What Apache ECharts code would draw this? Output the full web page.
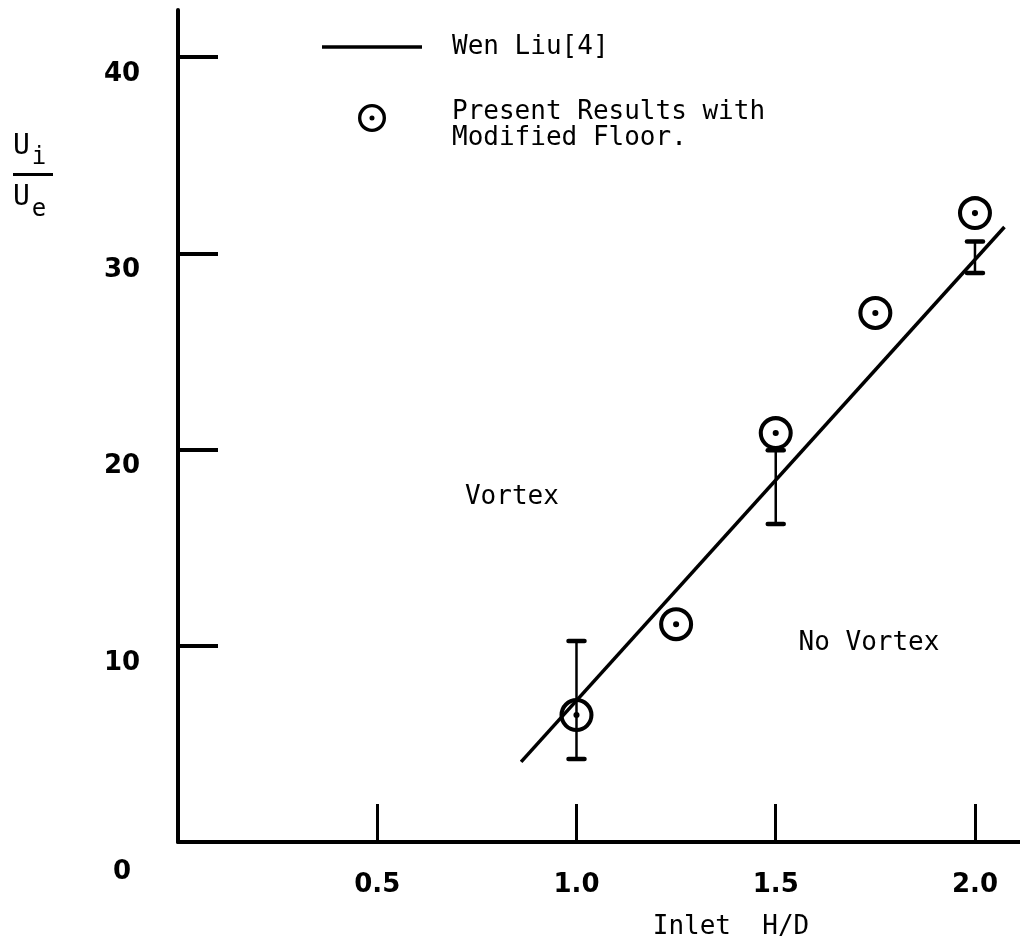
<!DOCTYPE html>
<html><head><meta charset="utf-8">
<script src="https://cdn.jsdelivr.net/npm/echarts@6/dist/echarts.min.js"></script>
<style>html,body{margin:0;padding:0;background:#fff}#c{width:1020px;height:952px}</style>
</head><body><div id="c"></div>
<script>
// ---- data ----
const xTicks = [0.5, 1.0, 1.5, 2.0];
const yTicks = [10, 20, 30, 40];
const yLabels = [0, 10, 20, 30, 40];
const correlationName = 'Wen Liu[4]';
const correlationHD = [0.861, 2.074];
const correlationU = [4.08, 31.34];
const resultsName = 'Present Results with Modified Floor.';
const resultsHD = [1.0, 1.25, 1.5, 1.75, 2.0];
const resultsU = [6.47, 11.1, 20.84, 26.96, 32.05];
const errHD = [1.0, 1.5, 2.0];
const errLow = [4.23, 16.2, 29.0];
const errHigh = [10.24, 19.97, 30.6];
const regionLabels = ['Vortex', 'No Vortex'];
const regionHD = [0.838, 1.734];
const regionU = [17.55, 10.15];
const xAxisName = 'Inlet  H/D';

const MONO = 'DejaVu Sans Mono';
const BOLD = 'DejaVu Sans';
const ring = 'path://M50 0A50 50 0 1 1 50 100A50 50 0 1 1 50 0ZM50 12A38 38 0 1 0 50 88A38 38 0 1 0 50 12ZM50 41A9 9 0 1 1 50 59A9 9 0 1 1 50 41Z';
const lineIcon = 'path://M0 0H100V3.5H0Z';

const chart = echarts.init(document.getElementById('c'));
chart.setOption({
  animation: false,
  backgroundColor: '#fff',
  title: {
    left: 13, top: 121, padding: 0,
    text: '{u1|U}{s1|i}\n{bar| }\n{u2|U}{s2|e}',
    textStyle: {
      fontWeight: 'normal', fontFamily: MONO,
      rich: {
        u1: {fontFamily: MONO, fontWeight: 'normal', fontSize: 28, lineHeight: 52, color: '#000'},
        s1: {fontFamily: MONO, fontWeight: 'normal', fontSize: 24, lineHeight: 52, color: '#000', padding: [22, 0, 0, 2]},
        bar: {width: 40, height: 3, lineHeight: 3, fontSize: 2, backgroundColor: '#000'},
        u2: {fontFamily: MONO, fontWeight: 'normal', fontSize: 28, lineHeight: 43, color: '#000'},
        s2: {fontFamily: MONO, fontWeight: 'normal', fontSize: 24, lineHeight: 43, color: '#000', padding: [24, 0, 0, 2]}
      }
    }
  },
  legend: {
    data: [
      {name: correlationName, icon: lineIcon, itemStyle: {color: '#000'}},
      {name: resultsName}
    ],
    orient: 'vertical',
    left: 322, top: 34, padding: 0,
    itemWidth: 100, itemHeight: 28, itemGap: 25,
    selectedMode: false,
    formatter: function (name) {
      if (name === resultsName) {
        return '{t1|Present Results with}\n{t1|Modified Floor.}';
      }
      return '{t|' + name + '}';
    },
    textStyle: {
      fontFamily: MONO, fontSize: 26, color: '#000',
      rich: {
        t: {fontFamily: MONO, fontSize: 26, lineHeight: 26, color: '#000', padding: [0, 0, 0, 25]},
        t1: {fontFamily: MONO, fontSize: 26, lineHeight: 26, color: '#000', padding: [14, 0, 0, 25]}
      }
    }
  },
  grid: {left: 178, right: 0, top: 10, bottom: 110, containLabel: false, outerBoundsMode: 'none'},
  xAxis: {
    type: 'value', min: 0, max: 2.113, interval: 0.5,
    axisLine: {show: true, onZero: false, lineStyle: {color: '#000', width: 4}},
    axisTick: {show: true, inside: true, length: 38, customValues: xTicks, lineStyle: {color: '#000', width: 3}},
    axisLabel: {customValues: xTicks, formatter: v => v.toFixed(1), fontFamily: BOLD, fontWeight: 'bold', fontSize: 26, color: '#000', margin: 30},
    splitLine: {show: false},
    name: xAxisName, nameLocation: 'middle', nameGap: 72,
    nameTextStyle: {fontFamily: MONO, fontSize: 26, color: '#000', padding: [0, 0, 0, 264]}
  },
  yAxis: {
    type: 'value', min: 0, max: 42.4, interval: 10,
    axisLine: {show: true, onZero: false, lineStyle: {color: '#000', width: 4}},
    axisTick: {show: true, inside: true, length: 40, customValues: yTicks, lineStyle: {color: '#000', width: 4}},
    axisLabel: {
      customValues: yLabels, align: 'center', margin: 56,
      fontFamily: BOLD, fontWeight: 'bold', fontSize: 26, color: '#000',
      formatter: v => (v === 0 ? '{z|0}' : '{a|' + v + '}'),
      rich: {
        a: {fontFamily: BOLD, fontWeight: 'bold', fontSize: 26, color: '#000', padding: [34, 0, 0, 0]},
        z: {fontFamily: BOLD, fontWeight: 'bold', fontSize: 26, color: '#000', padding: [60, 0, 0, 0]}
      }
    },
    splitLine: {show: false}
  },
  series: [
    {
      type: 'line', name: correlationName,
      data: correlationHD.map((x, i) => [x, correlationU[i]]),
      symbol: 'none', lineStyle: {color: '#000', width: 3.5}, itemStyle: {color: '#000'}, z: 3
    },
    {
      type: 'custom', name: 'error bars',
      data: errHD.map((x, i) => [x, errLow[i], errHigh[i]]),
      encode: {x: 0, y: [1, 2]},
      renderItem: function (params, api) {
        const x = api.value(0);
        const lo = api.coord([x, api.value(1)]);
        const hi = api.coord([x, api.value(2)]);
        const hw = 8;
        return {
          type: 'group',
          children: [
            {type: 'line', shape: {x1: lo[0], y1: lo[1], x2: hi[0], y2: hi[1]}, style: {stroke: '#000', lineWidth: 2.5}},
            {type: 'line', shape: {x1: lo[0] - hw, y1: lo[1], x2: lo[0] + hw, y2: lo[1]}, style: {stroke: '#000', lineWidth: 4.5, lineCap: 'round'}},
            {type: 'line', shape: {x1: hi[0] - hw, y1: hi[1], x2: hi[0] + hw, y2: hi[1]}, style: {stroke: '#000', lineWidth: 4.5, lineCap: 'round'}}
          ]
        };
      },
      z: 4
    },
    {
      type: 'scatter', name: resultsName,
      data: resultsHD.map((x, i) => [x, resultsU[i]]),
      symbol: ring, symbolSize: 34, itemStyle: {color: '#000', opacity: 1}, z: 5
    },
    {
      type: 'scatter', name: 'regions',
      data: regionLabels.map((t, i) => ({name: t, value: [regionHD[i], regionU[i]]})),
      symbolSize: 1, itemStyle: {color: 'rgba(0,0,0,0)', opacity: 1},
      label: {show: true, position: 'inside', formatter: p => p.name, fontFamily: MONO, fontSize: 26, color: '#000', opacity: 1},
      silent: true
    }
  ]
});
</script>
</body></html>
